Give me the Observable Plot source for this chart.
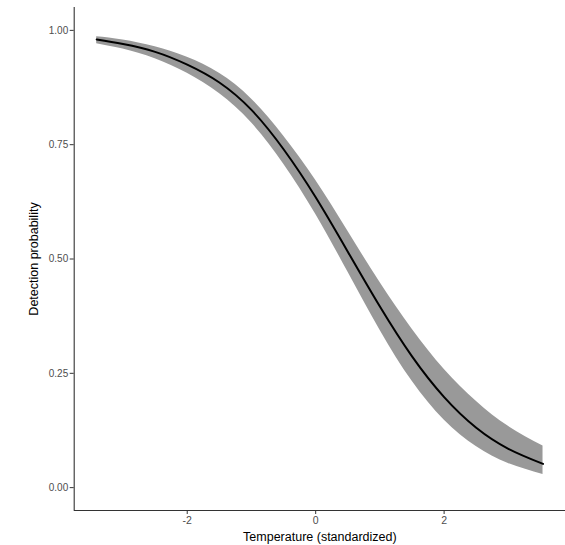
<!DOCTYPE html>
<html>
<head>
<meta charset="utf-8">
<script src="https://cdn.jsdelivr.net/npm/d3@7"></script>
<script src="https://cdn.jsdelivr.net/npm/@observablehq/plot@0.6"></script>
<style>
  html, body { margin: 0; padding: 0; background: #fff; }
</style>
</head>
<body>
<div id="chart"></div>
<script>
// Temperature (standardized) values at which the curve was read
const temperature = [-3.41, -3, -2.5, -2, -1.5, -1, -0.5, 0, 0.5, 1, 1.5, 2, 2.5, 3, 3.54];
// Estimated detection probability (mean)
const detection = [0.980, 0.970, 0.953, 0.925, 0.886, 0.826, 0.740, 0.635, 0.516, 0.396, 0.287, 0.198, 0.131, 0.085, 0.052];
// Credible interval bounds
const lower = [0.971, 0.959, 0.938, 0.906, 0.862, 0.798, 0.708, 0.598, 0.472, 0.345, 0.233, 0.148, 0.090, 0.053, 0.029];
const upper = [0.986, 0.979, 0.964, 0.941, 0.906, 0.850, 0.769, 0.672, 0.561, 0.449, 0.347, 0.259, 0.189, 0.134, 0.091];

const xTicks = [-2, 0, 2];
const yTicks = [0, 0.25, 0.5, 0.75, 1];
const xDomain = [-3.76, 3.89];
const yDomain = [-0.05, 1.05];

const data = temperature.map((t, i) => ({t, p: detection[i], lo: lower[i], hi: upper[i]}));

const font = "'Liberation Sans', Arial, Helvetica, sans-serif";

const chart = Plot.plot({
  width: 565,
  height: 545,
  marginLeft: 73.7,
  marginRight: 0,
  marginTop: 7,
  marginBottom: 35,
  style: {fontFamily: font, fontSize: "10px", background: "#fff", overflow: "visible"},
  x: {domain: xDomain},
  y: {domain: yDomain},
  marks: [
    Plot.areaY(data, {x: "t", y1: "lo", y2: "hi", fill: "#999999", curve: "natural"}),
    Plot.lineY(data, {x: "t", y: "p", stroke: "#000", strokeWidth: 2, curve: "natural"}),
    Plot.ruleX([xDomain[0]], {stroke: "#333", strokeWidth: 1.1}),
    Plot.ruleY([yDomain[0]], {stroke: "#333", strokeWidth: 1.1}),
    Plot.axisX(xTicks, {tickSize: 4, tickPadding: 2, stroke: "#333", fill: "#4d4d4d", fontSize: 10.5, tickFormat: d => String(d), label: null}),
    Plot.axisY(yTicks, {tickSize: 4, tickPadding: 2, stroke: "#333", fill: "#4d4d4d", fontSize: 10, tickFormat: d3.format(".2f"), label: null}),
    Plot.text(["Temperature (standardized)"], {frameAnchor: "bottom", dy: 30, fontSize: 12.5, fill: "#000", lineAnchor: "bottom", textAnchor: "middle"}),
    Plot.text(["Detection probability"], {frameAnchor: "left", dx: -40, rotate: -90, fontSize: 12.5, fill: "#000", textAnchor: "middle", lineAnchor: "middle"})
  ]
});
document.getElementById("chart").appendChild(chart);
</script>
</body>
</html>
